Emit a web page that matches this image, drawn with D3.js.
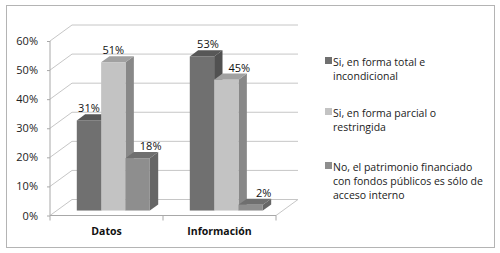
<!DOCTYPE html>
<html>
<head>
<meta charset="utf-8">
<script src="https://cdn.jsdelivr.net/npm/d3@7"></script>
<style>
  body { margin: 0; background: #fff; }
  text { font-family: "Open Sans", sans-serif; }
</style>
</head>
<body>
<svg id="chart" width="500" height="253"></svg>
<script>
const categories = ['Datos', 'Información'];
const seriesNames = [
  ['Si, en forma total e', 'incondicional'],
  ['Si, en forma parcial o', 'restringida'],
  ['No, el patrimonio financiado', 'con fondos públicos es sólo de', 'acceso interno']
];
// values per series, one per category
const seriesValues = [
  [0.31, 0.53],
  [0.51, 0.45],
  [0.18, 0.02]
];
const yTicks = [0, 0.1, 0.2, 0.3, 0.4, 0.5, 0.6];

// colours: front, top, side
const faceColors = [
  ['#707070', '#575757', '#515151'],
  ['#c3c3c3', '#a1a1a1', '#888888'],
  ['#8e8e8e', '#6f6f6f', '#666666']
];

const svg = d3.select('#chart');

// outer frame
svg.append('rect')
  .attr('x', 6.5).attr('y', 5.5)
  .attr('width', 488).attr('height', 242)
  .attr('fill', '#fff').attr('stroke', '#b4b4b4');

const depthX = 22, depthY = -16;
const barFrom = 0.31, barTo = 0.69; // bar position inside depth

const x = d3.scaleBand().domain(categories).range([50, 276]);
const inner = d3.scaleBand().domain(d3.range(seriesValues.length))
  .range([0, x.bandwidth()]).paddingOuter(0.82).paddingInner(0);
const y = d3.scaleLinear().domain([0, 0.6]).range([215.5, 41]);

const walls = svg.append('g');
const x0 = x.range()[0], x1 = x.range()[1];

// gridlines: left wall diagonal + back wall
yTicks.forEach(t => {
  const yy = y(t);
  walls.append('path')
    .attr('d', `M${x0},${yy}L${x0 + depthX},${yy + depthY}` +
      (t > 0 ? `L${x1 + depthX},${yy + depthY}` : ''))
    .attr('fill', 'none').attr('stroke', '#c6c6c6');
});
// floor
walls.append('path')
  .attr('d', `M${x0},${y(0)}L${x1},${y(0)}L${x1 + depthX},${y(0) + depthY}L${x0 + depthX},${y(0) + depthY}`)
  .attr('fill', 'none').attr('stroke', '#c6c6c6');
// front axes
walls.append('path')
  .attr('d', `M${x0},${y(0.6)}L${x0},${y(0)}L${x1},${y(0)}`)
  .attr('fill', 'none').attr('stroke', '#a8a8a8');

// y axis labels
const yAxis = d3.axisLeft(y).tickValues(yTicks).tickFormat(d3.format('.0%')).tickSize(3).tickPadding(9);
const ya = svg.append('g').attr('transform', `translate(${x0},0)`).call(yAxis);
ya.select('.domain').remove();
ya.selectAll('line').attr('stroke', '#a8a8a8');
ya.selectAll('text').attr('font-size', 11).attr('fill', '#222');

// x axis
const xAxis = d3.axisBottom(x).tickSize(0).tickPadding(12);
const xa = svg.append('g').attr('transform', `translate(0,${y(0)})`).call(xAxis);
xa.select('.domain').remove();
xa.selectAll('text').attr('font-size', 10.5).attr('font-weight', 'bold').attr('fill', '#111');
// category separator ticks
[x0, x0 + x.bandwidth(), x1].forEach(tx => {
  svg.append('line').attr('x1', tx).attr('x2', tx)
    .attr('y1', y(0)).attr('y2', y(0) + 5).attr('stroke', '#a8a8a8');
});

// bars
const bars = svg.append('g');
const fx = barFrom * depthX, fy = barFrom * depthY;
const bx = (barTo - barFrom) * depthX, by = (barTo - barFrom) * depthY;
categories.forEach((c, ci) => {
  seriesValues.forEach((vals, si) => {
    const v = vals[ci];
    const left = x(c) + inner(si) + fx;
    const right = left + inner.bandwidth();
    const top = y(v) + fy, bottom = y(0) + fy;
    const col = faceColors[si];
    bars.append('path')
      .attr('d', `M${right},${top}L${right + bx},${top + by}L${right + bx},${bottom + by}L${right},${bottom}Z`)
      .attr('fill', col[2]);
    bars.append('path')
      .attr('d', `M${left},${top}L${left + bx},${top + by}L${right + bx},${top + by}L${right},${top}Z`)
      .attr('fill', col[1]);
    bars.append('rect')
      .attr('x', left).attr('y', top)
      .attr('width', right - left).attr('height', bottom - top)
      .attr('fill', col[0]);
  });
});

// value labels (nudged right when the bar to the left is taller)
categories.forEach((c, ci) => {
  seriesValues.forEach((vals, si) => {
    const v = vals[ci];
    const prev = si > 0 ? seriesValues[si - 1][ci] : null;
    let cx = x(c) + inner(si) + fx + inner.bandwidth() / 2;
    if (prev !== null && prev > v) cx += 13;
    else if (si === 0 && ci > 0) cx += 6;
    svg.append('text')
      .attr('x', cx).attr('y', y(v) + fy + by - 2)
      .attr('text-anchor', 'middle')
      .attr('font-size', 11).attr('fill', '#111')
      .text(d3.format('.0%')(v));
  });
});

// legend
const legendTop = [66, 117, 171];
const legend = svg.append('g');
seriesNames.forEach((lines, si) => {
  legend.append('rect')
    .attr('x', 325).attr('y', legendTop[si] - 9)
    .attr('width', 7).attr('height', 7)
    .attr('fill', faceColors[si][0]);
  lines.forEach((ln, li) => {
    legend.append('text')
      .attr('x', 333).attr('y', legendTop[si] + li * 14)
      .attr('font-size', 10.5).attr('fill', '#222')
      .text(ln);
  });
});
</script>
</body>
</html>
